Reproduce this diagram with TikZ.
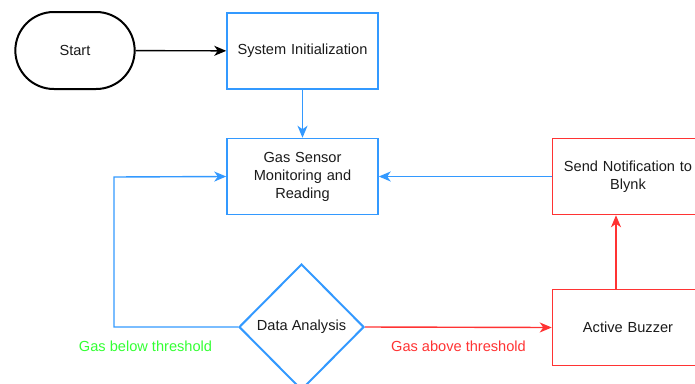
\documentclass[tikz,border=0pt]{standalone}
\usepackage{fontspec}
\setmainfont{Liberation Sans}
\usetikzlibrary{shapes.geometric,shapes.misc,arrows.meta}
\definecolor{lblue}{RGB}{51,153,255}
\definecolor{lred}{RGB}{255,51,51}
\definecolor{lgreen}{RGB}{51,255,51}
\definecolor{txt}{RGB}{26,26,26}
\tikzset{
  fnt/.style={font=\fontsize{14.6}{18}\selectfont},
  box/.style={draw=lblue, line width=1.5pt, minimum width=151pt, minimum height=76pt, inner sep=1pt, align=center, text width=149pt, fnt, text=txt},
  rbox/.style={box, draw=lred},
  term/.style={draw=black, line width=2pt, rounded rectangle, minimum width=126pt, minimum height=77pt, fnt, text=txt},
  dec/.style={draw=lblue, line width=2pt, diamond, minimum width=125pt, minimum height=126pt, inner sep=0pt, fnt, text=txt},
  arr/.style={line width=1.4pt, -{Stealth[length=12pt,width=10pt,inset=3.5pt]}},
  lbl/.style={fnt}
}
\begin{document}
\begin{tikzpicture}[x=1pt,y=-1pt]
\useasboundingbox (0,0) rectangle (695,383);
\clip (0,0) rectangle (695,383);
\node[term] (start) at (75,50.5) {Start};
\node[box] (init) at (302.5,51) {System Initialization};
\node[box] (gas) at (302.5,176.5) {Gas Sensor\\Monitoring and\\Reading};
\node[dec] (da) at (301.5,327) {Data Analysis};
\node[rbox] (buz) at (628,327.5) {Active Buzzer};
\node[rbox] (send) at (628,176.5) {Send Notification to\\Blynk};
\coordinate (lc) at (114,327);
\coordinate (lt) at (114,177);
\draw[arr, black] (start) -- (init);
\draw[arr, lblue] (init) -- (gas);
\draw[arr, lblue] (da.west) -- (lc) -- (lt) -- (gas.west);
\draw[arr, lred] (da.east) -- (buz.west);
\draw[arr, lred] (buz.north -| 616,0) -- (send.south -| 616,0);
\draw[arr, lblue] (send.west) -- (gas.east);
\node[lbl, text=lgreen] (below) at (145.5,346) {Gas below threshold};
\node[lbl, text=lred] (above) at (458.5,346) {Gas above threshold};
\end{tikzpicture}
\end{document}
